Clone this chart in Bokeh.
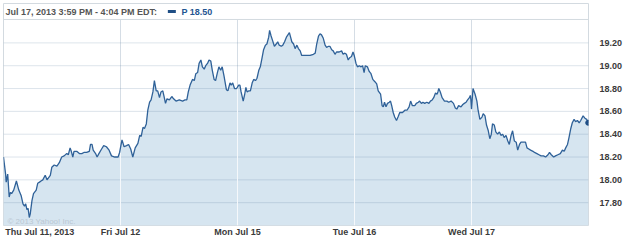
from bokeh.plotting import figure
from bokeh.models import Range1d, FixedTicker, NumeralTickFormatter, Span
from bokeh.core.properties import value
from bokeh.embed import file_html
from bokeh.resources import INLINE

# ---------------- data (minutes after 9:30 open, price) ----------------
DAY_MINUTES = 390

day1_min = [0, 7, 9, 14, 19, 23, 27, 34, 43, 51,
            59, 65, 70, 74, 78, 82, 86, 89, 95, 100,
            109, 114, 120, 125, 131, 139, 145, 156, 161, 169,
            178, 186, 194, 202, 211, 216, 222, 226, 231, 235,
            244, 253, 261, 268, 277, 286, 290, 295, 299, 307,
            312, 318, 327, 334, 343, 352, 360, 371, 382, 387]
day1_px = [18.20, 18.05, 17.98, 18.05, 17.85, 17.89, 17.88, 17.91, 17.99, 17.91,
           17.86, 17.79, 17.77, 17.79, 17.74, 17.75, 17.67, 17.70, 17.82, 17.88,
           17.91, 17.97, 17.98, 17.99, 18.00, 18.04, 18.00, 18.04, 18.11, 18.13,
           18.12, 18.15, 18.20, 18.21, 18.23, 18.22, 18.28, 18.25, 18.20, 18.25,
           18.25, 18.23, 18.23, 18.24, 18.24, 18.25, 18.31, 18.31, 18.26, 18.23,
           18.20, 18.23, 18.27, 18.30, 18.29, 18.26, 18.21, 18.20, 18.20, 18.24]

day2_min = [5, 12, 20, 27, 34, 41, 49, 58, 64, 69,
            75, 80, 86, 91, 97, 102, 108, 113, 119, 124,
            130, 135, 141, 146, 150, 155, 163, 171, 177, 185,
            196, 207, 215, 221, 226, 232, 240, 246, 251, 257,
            262, 268, 273, 279, 284, 290, 295, 301, 306, 312,
            317, 323, 328, 334, 339, 345, 353, 358, 365, 369,
            374, 380, 387]
day2_px = [18.35, 18.29, 18.30, 18.31, 18.27, 18.20, 18.28, 18.32, 18.39, 18.38,
           18.46, 18.45, 18.49, 18.61, 18.68, 18.70, 18.77, 18.87, 18.78, 18.78,
           18.72, 18.77, 18.78, 18.72, 18.67, 18.71, 18.70, 18.73, 18.71, 18.69,
           18.70, 18.69, 18.70, 18.70, 18.77, 18.83, 18.88, 18.87, 18.93, 18.94,
           19.02, 19.05, 18.99, 18.97, 19.00, 19.02, 19.05, 19.04, 18.96, 18.88,
           18.87, 18.94, 18.99, 18.96, 18.99, 18.91, 18.79, 18.78, 18.85, 18.83,
           18.85, 18.80, 18.80]

day3_min = [4, 8, 12, 19, 24, 28, 32, 38, 43, 49,
            54, 60, 65, 71, 76, 82, 87, 93, 98, 104,
            107, 112, 117, 123, 129, 134, 139, 146, 151, 157,
            163, 168, 173, 177, 181, 187, 192, 198, 203, 209,
            214, 222, 231, 242, 253, 259, 264, 270, 275, 280,
            286, 292, 297, 303, 308, 314, 319, 325, 330, 339,
            347, 352, 358, 363, 369, 374, 380, 385, 389]
day3_px = [18.83, 18.83, 18.77, 18.69, 18.75, 18.81, 18.77, 18.78, 18.78, 18.85,
           18.88, 18.87, 18.89, 18.96, 18.99, 19.07, 19.14, 19.18, 19.19, 19.25,
           19.31, 19.26, 19.22, 19.17, 19.19, 19.21, 19.18, 19.17, 19.18, 19.21,
           19.25, 19.27, 19.29, 19.25, 19.21, 19.19, 19.15, 19.18, 19.15, 19.13,
           19.09, 19.09, 19.09, 19.09, 19.10, 19.11, 19.19, 19.26, 19.28, 19.27,
           19.24, 19.18, 19.16, 19.17, 19.17, 19.14, 19.13, 19.10, 19.12, 19.12,
           19.13, 19.10, 19.11, 19.10, 19.05, 19.07, 19.08, 19.12, 19.09]

day4_min = [5, 10, 16, 22, 27, 32, 36, 43, 49, 55,
            61, 68, 74, 79, 87, 92, 96, 100, 105, 110,
            116, 120, 124, 129, 134, 140, 145, 151, 160, 168,
            175, 182, 187, 193, 201, 206, 213, 217, 223, 228,
            234, 241, 248, 253, 259, 264, 270, 275, 278, 281,
            286, 292, 300, 308, 314, 322, 330, 336, 341, 347,
            355, 361, 366, 372, 377, 383, 386, 388, 390]
day4_px = [19.02, 18.99, 19.00, 18.99, 19.00, 18.94, 19.00, 18.99, 18.95, 18.93,
           18.88, 18.86, 18.84, 18.78, 18.75, 18.65, 18.64, 18.68, 18.64, 18.67,
           18.68, 18.69, 18.65, 18.59, 18.55, 18.52, 18.55, 18.59, 18.59, 18.61,
           18.61, 18.64, 18.69, 18.65, 18.65, 18.67, 18.68, 18.69, 18.67, 18.68,
           18.67, 18.68, 18.67, 18.69, 18.70, 18.72, 18.76, 18.75, 18.77, 18.80,
           18.77, 18.72, 18.69, 18.69, 18.68, 18.69, 18.67, 18.63, 18.62, 18.65,
           18.64, 18.66, 18.67, 18.68, 18.70, 18.72, 18.74, 18.70, 18.62]

day5_min = [5, 12, 18, 22, 28, 35, 39, 45, 50, 56,
            61, 66, 70, 76, 81, 87, 93, 98, 104, 109,
            115, 121, 126, 132, 137, 143, 149, 154, 160, 165,
            173, 180, 185, 191, 197, 205, 210, 218, 225, 232,
            240, 247, 255, 260, 266, 274, 280, 288, 296, 303,
            309, 314, 320, 325, 331, 336, 342, 347, 353, 359,
            364, 372, 378, 384, 389]
day5_px = [18.80, 18.75, 18.69, 18.61, 18.53, 18.55, 18.58, 18.56, 18.48, 18.43,
           18.36, 18.40, 18.49, 18.48, 18.42, 18.40, 18.42, 18.39, 18.40, 18.37,
           18.39, 18.34, 18.31, 18.39, 18.43, 18.34, 18.33, 18.26, 18.31, 18.33,
           18.33, 18.33, 18.28, 18.27, 18.26, 18.25, 18.24, 18.23, 18.22, 18.21,
           18.21, 18.20, 18.22, 18.24, 18.22, 18.20, 18.21, 18.22, 18.23, 18.26,
           18.25, 18.28, 18.31, 18.37, 18.45, 18.50, 18.53, 18.51, 18.52, 18.50,
           18.52, 18.56, 18.54, 18.53, 18.50]

day_labels = ["Thu Jul 11, 2013", "Fri Jul 12", "Mon Jul 15", "Tue Jul 16", "Wed Jul 17"]
y_ticks = [17.8, 18.0, 18.2, 18.4, 18.6, 18.8, 19.0, 19.2]
symbol = "P"
header_text = "Jul 17, 2013 3:59 PM - 4:04 PM EDT:"
copyright_text = "\u00a9 2013 Yahoo! Inc."

# ---------------- assemble ----------------
days = [(day1_min, day1_px), (day2_min, day2_px), (day3_min, day3_px),
        (day4_min, day4_px), (day5_min, day5_px)]
t, price = [], []
for k, (mins, vals) in enumerate(days):
    t += [k * DAY_MINUTES + m for m in mins]
    price += vals

n_days = len(days)
X_END = n_days * DAY_MINUTES
Y_START, Y_END = 17.6, 19.545
HEADER_LINE = 19.405
HEADER_MID = 19.474
FRAME_W = 589  # px

FONT = "Liberation Sans"
FILL = "#d6e5f0"
LINE = "#2f6198"

p = figure(width=625, height=242, x_range=Range1d(0, X_END), y_range=Range1d(Y_START, Y_END),
           output_backend="svg", toolbar_location=None, y_axis_location="right",
           min_border_left=3, min_border_right=33, min_border_top=3, min_border_bottom=17)
p.xgrid.visible = False
p.ygrid.visible = False
p.background_fill_color = "white"
p.border_fill_color = "white"
p.outline_line_color = "#d3dae0"

bounds = [k * DAY_MINUTES for k in range(1, n_days)]

# vertical grid lines (grey over white area)
p.segment(x0=bounds, y0=Y_START, x1=bounds, y1=HEADER_LINE, line_color="#d5dde5", line_width=1)

# area
p.varea(x=t, y1=Y_START, y2=price, fill_color=FILL)

# horizontal grid lines
p.segment(x0=0, x1=X_END, y0=y_ticks, y1=y_ticks, line_color="#55799c", line_alpha=0.2, line_width=1)

# white day separators inside the fill
tops = []
for k in range(1, n_days):
    tops.append(min(days[k - 1][1][-1], days[k][1][0]))
p.segment(x0=bounds, y0=Y_START, x1=bounds, y1=tops, line_color="#f5f8fb", line_width=1)

# copyright
p.text(x=[0], y=[Y_START], text=[copyright_text], x_offset=4, y_offset=-4,
       text_baseline="alphabetic", text_align="left", text_font=value(FONT),
       text_font_size="8px", text_color="#bac7d3")

# price line + last point
p.line(t, price, line_color=LINE, line_width=1.3)
p.scatter([t[-1]], [price[-1]], size=5, fill_color="#1f4e85", line_color="#1f4e85")

# header
p.add_layout(Span(location=HEADER_LINE, dimension="width", line_color="#d3dae0", line_width=1))
p.text(x=[0], y=[HEADER_MID], text=[header_text], x_offset=2, text_baseline="middle",
       text_font=value(FONT), text_font_size="9px", text_font_style="bold", text_color="#555555")
swatch_x = (169.5) / FRAME_W * X_END
p.rect(x=[swatch_x], y=[HEADER_MID], width=8, height=3, width_units="screen", height_units="screen",
       fill_color="#1f4e85", line_color=None)
p.text(x=[0], y=[HEADER_MID], text=[f"{symbol} {price[-1]:.2f}"], x_offset=178, text_baseline="middle",
       text_font=value(FONT), text_font_size="9px", text_font_style="bold", text_color="#1f5592")

# axes
# first day's label is left-aligned at the frame edge: anchor its (centred) tick half a label-width in
first_anchor = 36.5 / FRAME_W * X_END
x_tick_pos = [first_anchor] + bounds
yax = p.yaxis[0]
yax.ticker = FixedTicker(ticks=y_ticks)
yax.formatter = NumeralTickFormatter(format="0.00")
xax = p.xaxis[0]
xax.ticker = FixedTicker(ticks=x_tick_pos)
xax.major_label_overrides = {pos: lab for pos, lab in zip(x_tick_pos, day_labels)}
for ax in (xax, yax):
    ax.axis_line_color = None
    ax.major_tick_line_color = None
    ax.minor_tick_line_color = None
    ax.major_label_text_font = FONT
    ax.major_label_text_font_size = "9px"
    ax.major_label_text_font_style = "bold"
    ax.major_label_text_color = "#3a3a3a"
yax.major_label_standoff = 5
xax.major_label_standoff = -5

open("out.html", "w").write(file_html(p, INLINE))
